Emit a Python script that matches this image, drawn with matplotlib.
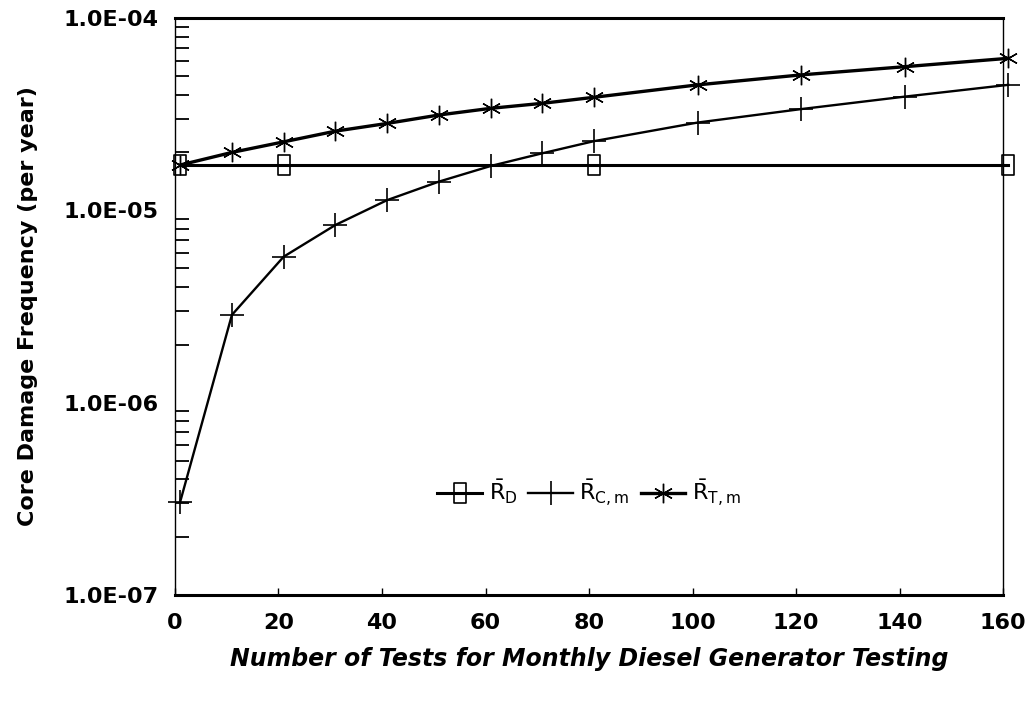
import matplotlib
matplotlib.use("Agg")
import matplotlib.pyplot as plt
from matplotlib.path import Path
from matplotlib.ticker import LogLocator, FixedLocator, NullFormatter

plt.rcParams['font.family'] = ['DejaVu Sans']
plt.rcParams['mathtext.fontset'] = 'dejavusans'

# Data (number of tests vs core damage frequency per year)
tests = [1, 11, 21, 31, 41, 51, 61, 71, 81, 101, 121, 141, 161]
r_tm = [1.72e-5, 2.0e-5, 2.27e-5, 2.58e-5, 2.83e-5, 3.13e-5, 3.39e-5,
        3.60e-5, 3.87e-5, 4.49e-5, 5.06e-5, 5.58e-5, 6.17e-5]
r_cm = [3.05e-7, 2.86e-6, 5.74e-6, 8.39e-6, 1.13e-5, 1.41e-5, 1.70e-5,
        1.98e-5, 2.29e-5, 2.86e-5, 3.36e-5, 3.90e-5, 4.49e-5]
rd_tests = [1, 21, 81, 161]
r_d = [1.72e-5, 1.72e-5, 1.72e-5, 1.72e-5]

xticks = [0, 20, 40, 60, 80, 100, 120, 140, 160]
yticks = [1e-7, 1e-6, 1e-5, 1e-4]
ytick_labels = ['1.0E-07', '1.0E-06', '1.0E-05', '1.0E-04']

# tall open rectangle marker
rect_marker = Path([(-0.6, -1), (0.6, -1), (0.6, 1), (-0.6, 1), (-0.6, -1)],
                   [Path.MOVETO, Path.LINETO, Path.LINETO, Path.LINETO,
                    Path.CLOSEPOLY])

fig = plt.figure(figsize=(10.33, 7.02), dpi=100)
ax = fig.add_axes([0.1694, 0.1524, 0.971 - 0.1694, 0.9744 - 0.1524])

ax.plot(rd_tests, r_d, color='black', lw=2.2, marker=rect_marker,
        markersize=15, markerfacecolor='none', markeredgewidth=1.2,
        clip_on=False, label=r'$\bar{\mathrm{R}}_{\mathrm{D}}$')
ax.plot(tests, r_cm, color='black', lw=1.7, marker='+', markersize=17,
        markeredgewidth=1.2, clip_on=False,
        label=r'$\bar{\mathrm{R}}_{\mathrm{C,m}}$')
ax.plot(tests, r_tm, color='black', lw=2.4, marker=(6, 2, 0), markersize=14,
        markeredgewidth=1.0, clip_on=False,
        label=r'$\bar{\mathrm{R}}_{\mathrm{T,m}}$')

ax.set_yscale('log')
ax.set_xlim(0, 160)
ax.set_ylim(1e-7, 1e-4)

ax.yaxis.set_major_locator(FixedLocator(yticks))
ax.set_yticklabels(ytick_labels)
ax.yaxis.set_minor_locator(LogLocator(base=10, subs=range(2, 10)))
ax.yaxis.set_minor_formatter(NullFormatter())
ax.set_xticks(xticks)
ax.set_xticklabels([str(t) for t in xticks])

ax.tick_params(axis='y', which='major', direction='in', length=0, pad=12,
               labelsize=16)
ax.tick_params(axis='y', which='minor', direction='in', length=10, width=1.3)
ax.tick_params(axis='x', which='major', direction='in', length=5, width=1,
               pad=13, labelsize=16)
for lab in ax.get_xticklabels() + ax.get_yticklabels():
    lab.set_fontweight('bold')

for side in ['top', 'bottom']:
    ax.spines[side].set_linewidth(2.2)
for side in ['left', 'right']:
    ax.spines[side].set_linewidth(1.0)

ax.set_xlabel('Number of Tests for Monthly Diesel Generator Testing',
              fontsize=17, fontweight='bold', fontstyle='italic', labelpad=10)
ax.set_ylabel('Core Damage Frequency (per year)', fontsize=16,
              fontweight='bold', labelpad=18)

leg = ax.legend(loc='center', bbox_to_anchor=(0.5, 0.177), ncol=3,
                frameon=False, fontsize=16, handlelength=2.0,
                columnspacing=0.5, handletextpad=0.3)

fig.savefig('out.png', dpi=100)
